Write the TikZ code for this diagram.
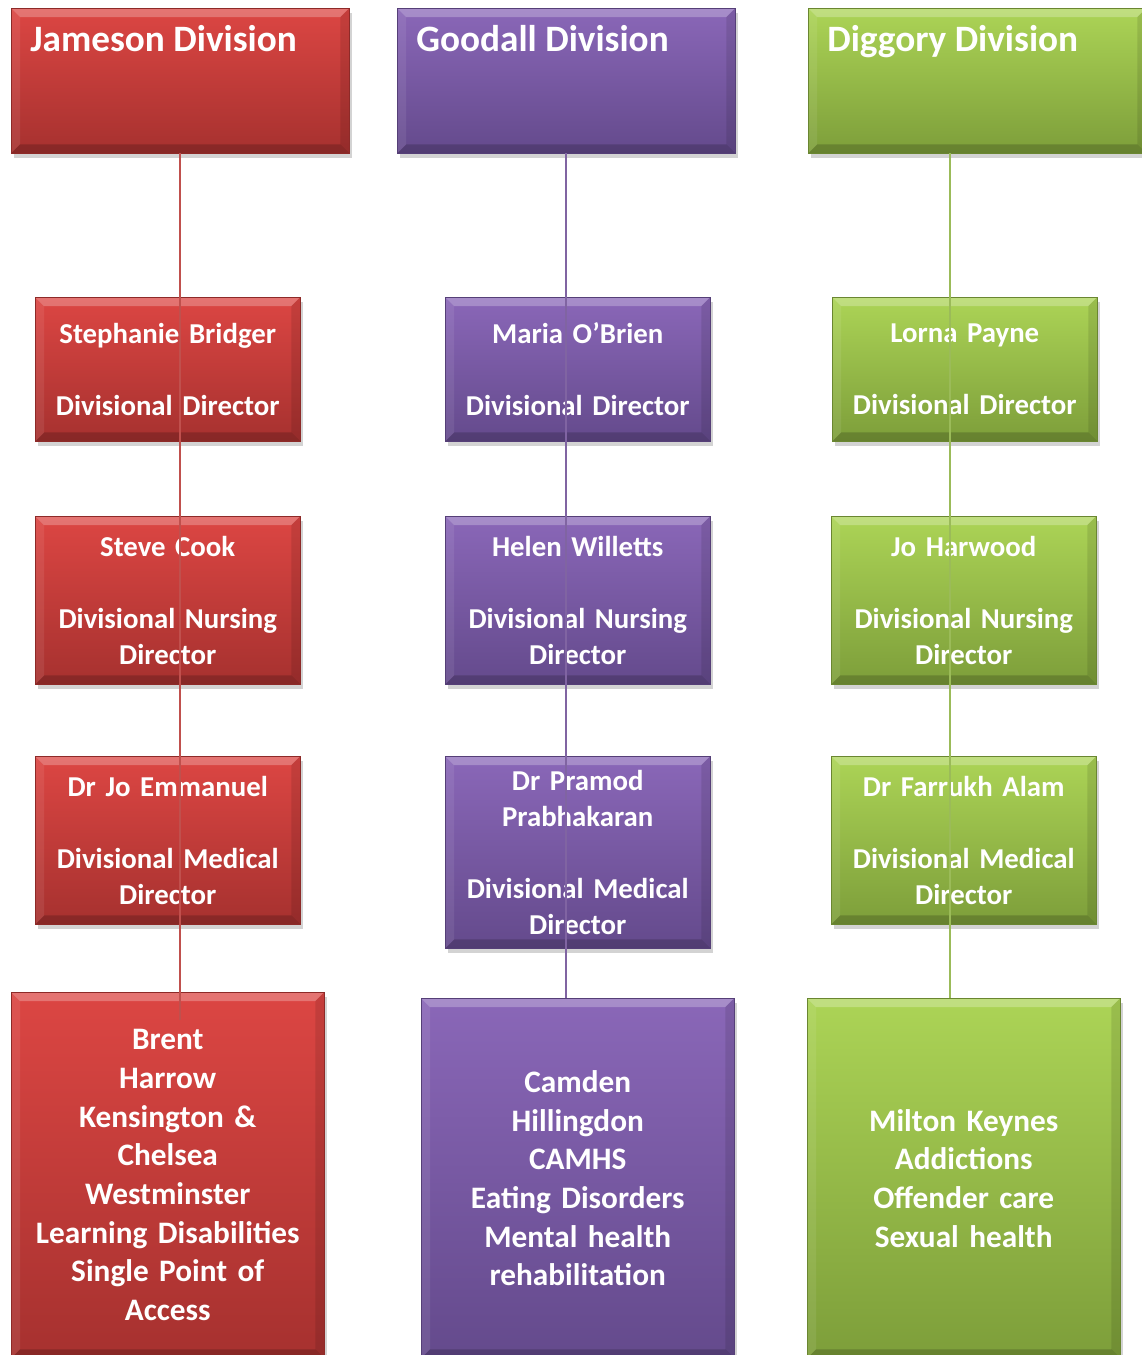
\documentclass[tikz,border=0pt]{standalone}
\usepackage{fontspec}
\setmainfont{Carlito}
\usetikzlibrary{shadows}

\definecolor{redtop}{RGB}{220,70,67}
\definecolor{redbot}{RGB}{166,49,47}
\definecolor{redline}{HTML}{C0504D}
\definecolor{purtop}{RGB}{138,103,184}
\definecolor{purbot}{RGB}{100,74,140}
\definecolor{purline}{HTML}{8064A2}
\definecolor{grntop}{RGB}{172,212,86}
\definecolor{grnbot}{RGB}{125,158,58}
\definecolor{grnline}{HTML}{9BBB59}

\tikzset{
  orgbox/.style={anchor=north west, inner sep=0pt, align=center,
    top color=#1top, bottom color=#1bot, draw=#1bot!85!black, line width=0.3pt,
    text=white, font=\bfseries\fontsize{16.4}{20.5}\selectfont,
    drop shadow={shadow xshift=1.5pt, shadow yshift=-2.5pt, opacity=0.35},
    path picture={
      \fill[white, opacity=0.25] (path picture bounding box.north west)
        -- (path picture bounding box.north east)
        -- ([shift={(-5pt,-5pt)}]path picture bounding box.north east)
        -- ([shift={(5pt,-5pt)}]path picture bounding box.north west) -- cycle;
      \fill[black, opacity=0.18] (path picture bounding box.south west)
        -- (path picture bounding box.south east)
        -- ([shift={(-5pt,5pt)}]path picture bounding box.south east)
        -- ([shift={(5pt,5pt)}]path picture bounding box.south west) -- cycle;
      \fill[black, opacity=0.10] (path picture bounding box.north east)
        -- (path picture bounding box.south east)
        -- ([shift={(-5pt,5pt)}]path picture bounding box.south east)
        -- ([shift={(-5pt,-5pt)}]path picture bounding box.north east) -- cycle;
      \fill[white, opacity=0.08] (path picture bounding box.north west)
        -- (path picture bounding box.south west)
        -- ([shift={(5pt,5pt)}]path picture bounding box.south west)
        -- ([shift={(5pt,-5pt)}]path picture bounding box.north west) -- cycle;
    }},
  headbox/.style={orgbox=#1, minimum width=6.76cm, minimum height=2.9cm},
  personbox/.style={orgbox=#1, text width=5.3cm, minimum height=3.36cm},
  servbox/.style={orgbox=#1, text width=6.26cm, minimum height=7.2cm,
    font=\bfseries\fontsize{17.8}{22}\selectfont},
  headtitle/.style={anchor=base west, inner sep=0pt, text=white,
    font=\bfseries\fontsize{21.2}{26}\selectfont},
  link/.style={draw=#1line, line width=1.1pt}
}

\begin{document}
\begin{tikzpicture}[x=0.02cm, y=-0.02cm]
  \useasboundingbox (0,0) rectangle (1142,1355);

  % division heads
  \node[headbox=red] (jameson) at (11,8) {};
  \node[headbox=pur] (goodall) at (397,8) {};
  \node[headbox=grn] (diggory) at (808,8) {};
  \node[headtitle] (jtitle) at (30,52) {Jameson Division};
  \node[headtitle] (gtitle) at (416,52) {Goodall Division};
  \node[headtitle] (dtitle) at (827,52) {Diggory Division};

  % divisional directors
  \node[personbox=red, minimum height=2.88cm] (rdir) at (35,297)
    {Stephanie Bridger\\[20.5pt]Divisional Director};
  \node[personbox=pur, minimum height=2.88cm] (pdir) at (445,297)
    {Maria O’Brien\\[20.5pt]Divisional Director};
  \node[personbox=grn, minimum height=2.88cm] (gdir) at (832,297)
    {Lorna Payne\\[20.5pt]Divisional Director};

  % nursing directors
  \node[personbox=red] (rnurse) at (35,516)
    {Steve Cook\\[20.5pt]Divisional Nursing\\Director};
  \node[personbox=pur] (pnurse) at (445,516)
    {Helen Willetts\\[20.5pt]Divisional Nursing\\Director};
  \node[personbox=grn] (gnurse) at (831,516)
    {Jo Harwood\\[20.5pt]Divisional Nursing\\Director};

  % medical directors
  \node[personbox=red] (rmed) at (35,756)
    {Dr Jo Emmanuel\\[20.5pt]Divisional Medical\\Director};
  \node[personbox=pur, minimum height=3.84cm] (pmed) at (445,756)
    {Dr Pramod\\Prabhakaran\\[20.5pt]Divisional Medical\\Director};
  \node[personbox=grn] (gmed) at (831,756)
    {Dr Farrukh Alam\\[20.5pt]Divisional Medical\\Director};

  % services
  \node[servbox=red, minimum height=7.32cm] (rserv) at (11,992)
    {Brent\\Harrow\\Kensington \&\\Chelsea\\Westminster\\Learning Disabilities\\Single Point of\\Access};
  \node[servbox=pur] (pserv) at (421,998)
    {Camden\\Hillingdon\\CAMHS\\Eating Disorders\\Mental health\\rehabilitation};
  \node[servbox=grn] (gserv) at (807,998)
    {Milton Keynes\\Addictions\\Offender care\\Sexual health};

  % reporting lines
  \coordinate (gdrop) at ([xshift=2.84cm]diggory.south west);
  \draw[link=red, shorten >=-0.56cm] (jameson.south) -- (jameson.south |- rserv.north);
  \draw[link=pur] (goodall.south) -- (goodall.south |- pserv.north);
  \draw[link=grn] (gdrop) -- (gdrop |- gserv.north);
\end{tikzpicture}
\end{document}
